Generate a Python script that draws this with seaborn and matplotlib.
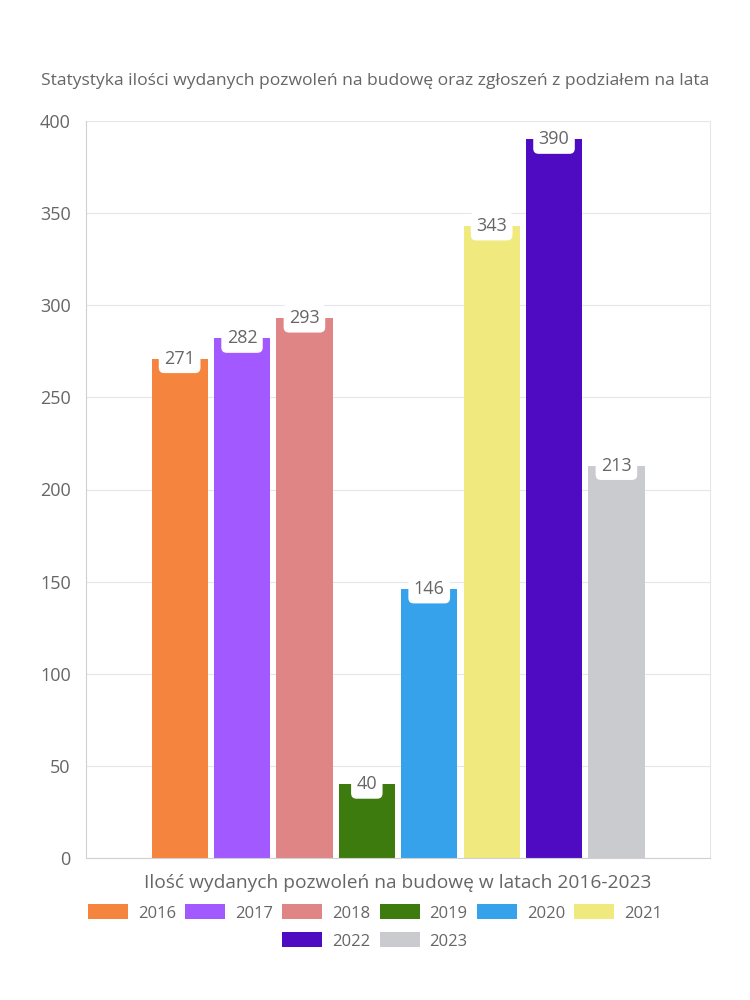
import matplotlib
matplotlib.use("Agg")
import matplotlib.pyplot as plt
import seaborn as sns
import pandas as pd
from matplotlib.patches import Patch

years = ["2016", "2017", "2018", "2019", "2020", "2021", "2022", "2023"]
values = [271, 282, 293, 40, 146, 343, 390, 213]
colors = ["#F5843F", "#A259FF", "#E08585", "#3E7B0E", "#36A2EB", "#F0EA7E", "#4E0BC2", "#C9CBCF"]
category = "Ilość wydanych pozwoleń na budowę w latach 2016-2023"
title = "Statystyka ilości wydanych pozwoleń na budowę oraz zgłoszeń z podziałem na lata"
yticks = [0, 50, 100, 150, 200, 250, 300, 350, 400]

sns.set_theme(style="white")
plt.rcParams["font.family"] = ["Open Sans", "DejaVu Sans"]
TXT = "#666666"

df = pd.DataFrame({"cat": [category] * len(years), "year": years, "value": values})

fig = plt.figure(figsize=(7.5, 10), dpi=100)
ax = fig.add_axes([0.1147, 0.142, 0.832, 0.737])

sns.barplot(data=df, x="cat", y="value", hue="year", hue_order=years,
            palette=colors, gap=0.1, ax=ax, legend=False, saturation=1,
            width=0.8, edgecolor="none")

ax.set_ylim(0, 400)
ax.set_xlim(-0.5, 0.5)
ax.set_yticks(yticks)
ax.set_yticklabels([str(t) for t in yticks], color=TXT, fontsize=13)
ax.yaxis.grid(True, color="#e6e6e6", linewidth=0.8)
ax.set_axisbelow(True)
ax.set_xticks([-0.5, 0.5])
ax.set_xticklabels(["", ""])
ax.tick_params(axis="x", length=8, color="#dddddd", width=0.8, direction="out")
ax.tick_params(axis="y", length=8, color="#dddddd", width=0.8, direction="out", pad=3)
for s in ["left", "right", "bottom"]:
    ax.spines[s].set_visible(True)
    ax.spines[s].set_color("#d0d0d0")
    ax.spines[s].set_linewidth(0.8)
ax.spines["right"].set_color("#e6e6e6")
ax.spines["top"].set_visible(False)
ax.set_ylabel("")
ax.set_xlabel(category, color=TXT, fontsize=13.8, labelpad=0)

for cont in ax.containers:
    for bar in cont:
        h = bar.get_height()
        ax.annotate(f"{int(round(h))}", (bar.get_x() + bar.get_width() / 2, h),
                    xytext=(0, 0), textcoords="offset points",
                    ha="center", va="center", color=TXT, fontsize=13,
                    bbox=dict(boxstyle="round,pad=0.3", fc="white", ec="none"))

fig.text(0.5, 0.919, title, ha="center", va="center", color=TXT, fontsize=12.6)

handles = [Patch(facecolor=c, edgecolor="none") for c in colors]
kw = dict(frameon=False, fontsize=12, handlelength=2.4, handleheight=1.0,
          columnspacing=0.55, handletextpad=0.6, labelcolor=TXT, loc="center")
fig.legend(handles[:6], years[:6], ncol=6, bbox_to_anchor=(0.5, 0.087), **kw)
fig.legend(handles[6:], years[6:], ncol=2, bbox_to_anchor=(0.5, 0.059), **kw)

fig.savefig("out.png", dpi=100, facecolor="white")
